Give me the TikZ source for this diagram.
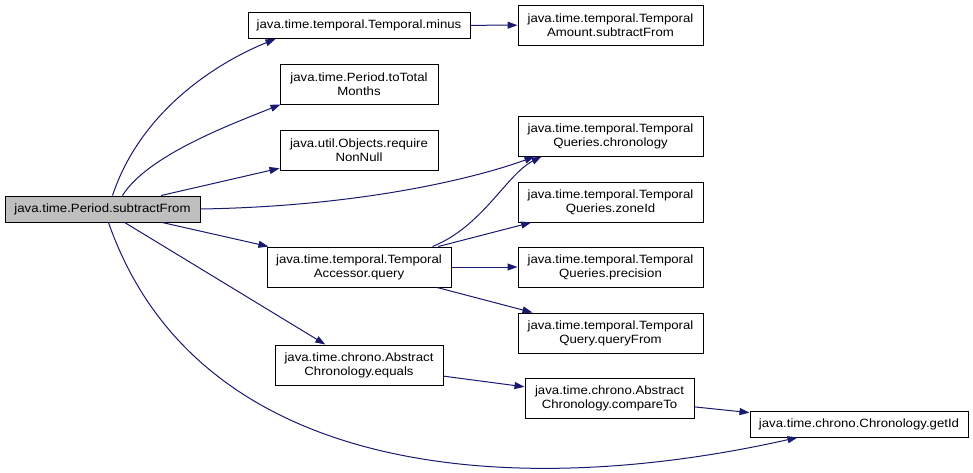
\documentclass[tikz,border=0pt]{standalone}
\usepackage{fontspec}
\setmainfont{Liberation Sans}[FakeStretch=1.1]
\usepackage{xcolor}
\usetikzlibrary{arrows.meta}
\definecolor{edgeblue}{HTML}{191970}
\definecolor{rootgray}{HTML}{BFBFBF}

\begin{document}
\begin{tikzpicture}[
        x=1pt, y=-1pt,
        font=\fontsize{12}{14}\selectfont,
        fnbox/.style={
            rectangle,
            draw,
            line width=1pt,
            align=center,
            inner sep=0pt,
            minimum height=40pt
        },
        rootbox/.style={
            fnbox,
            fill=rootgray,
            minimum height=26pt
        },
        call/.style={
            draw=edgeblue,
            line width=1pt,
            -{Triangle[length=10pt,width=7pt]}
        }
    ]
    \useasboundingbox (0,0) rectangle (973,472);

    % ---------- Caller ----------
    \node[rootbox, minimum width=195pt] (subfrom) at (102.5,209) {java.time.Period.subtractFrom};

    % ---------- First level ----------
    \node[fnbox, minimum width=222pt, minimum height=26pt] (minus)  at (359,25.5) {java.time.temporal.Temporal.minus};
    \node[fnbox, minimum width=158pt] (totmonths) at (359,84)  {java.time.Period.toTotal\\Months};
    \node[fnbox, minimum width=158pt] (nonnull)   at (359,150) {java.util.Objects.require\\NonNull};
    \node[fnbox, minimum width=184pt] (query)     at (359,267) {java.time.temporal.Temporal\\Accessor.query};
    \node[fnbox, minimum width=168pt] (aceq)      at (359,365) {java.time.chrono.Abstract\\Chronology.equals};

    % ---------- Second level ----------
    \node[fnbox, minimum width=185pt] (amountsub) at (610.5,25)  {java.time.temporal.Temporal\\Amount.subtractFrom};
    \node[fnbox, minimum width=185pt] (qchrono)   at (610.5,136) {java.time.temporal.Temporal\\Queries.chronology};
    \node[fnbox, minimum width=185pt] (qzone)     at (610.5,202) {java.time.temporal.Temporal\\Queries.zoneId};
    \node[fnbox, minimum width=185pt] (qprec)     at (610.5,267) {java.time.temporal.Temporal\\Queries.precision};
    \node[fnbox, minimum width=185pt] (qfrom)     at (610.5,333) {java.time.temporal.Temporal\\Query.queryFrom};
    \node[fnbox, minimum width=169pt] (accmp)     at (609.5,398) {java.time.chrono.Abstract\\Chronology.compareTo};
    \node[fnbox, minimum width=218pt, minimum height=26pt] (getid) at (859,424) {java.time.chrono.Chronology.getId};

    % ---------- Calls from subtractFrom ----------
    \draw[call] ([xshift=10pt]subfrom.north) .. controls +(30,-90) and +(-50,20) .. ([xshift=28pt]minus.south west);
    \draw[call] ([xshift=20pt]subfrom.north) .. controls +(25,-40) and +(-50,20) .. ([xshift=1pt]totmonths.south west);
    \draw[call] (subfrom) -- (nonnull);
    \draw[call] (subfrom.east) .. controls +(180,-3) and +(-40,15) .. ([xshift=17pt]qchrono.south west);
    \draw[call] (subfrom) -- (query);
    \draw[call] (subfrom) -- (aceq);
    \draw[call] ([xshift=6pt]subfrom.south) .. controls +(90,258) and +(-280,63) .. ([xshift=48pt]getid.south west);

    % ---------- Further calls ----------
    \draw[call] (minus) -- (amountsub);
    \draw[call] ([xshift=-19pt]query.north east) .. controls +(50,-20) and +(-35,18) .. ([xshift=24pt]qchrono.south west);
    \draw[call] (query) -- (qzone);
    \draw[call] (query) -- (qprec);
    \draw[call] (query) -- (qfrom);
    \draw[call] (aceq) -- (accmp);
    \draw[call] (accmp) -- (getid);

\end{tikzpicture}
\end{document}
